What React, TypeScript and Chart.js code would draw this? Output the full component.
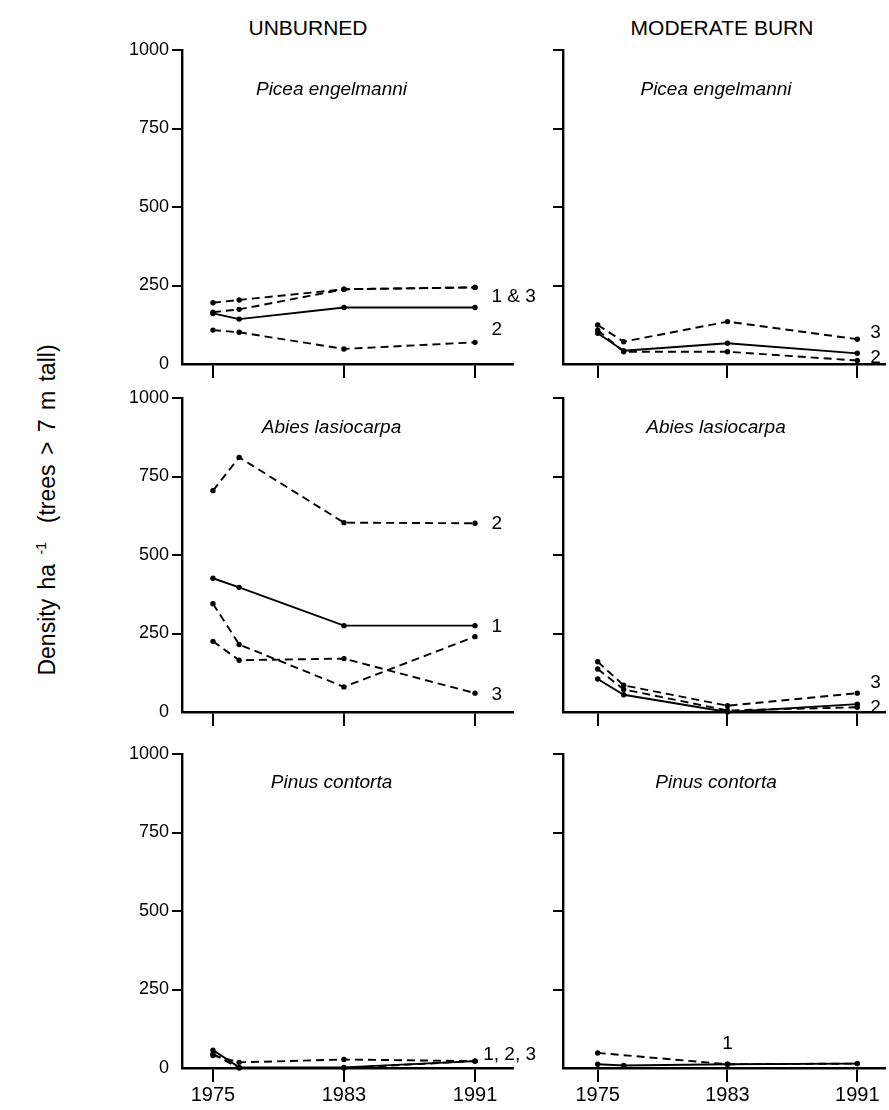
import React, { useEffect, useRef } from 'react';
import { Chart, registerables } from 'chart.js';

Chart.register(...registerables);

const FONT = "'Liberation Sans', Arial, Helvetica, sans-serif";

// ---- axis values ----
const xTickYears = [1975, 1983, 1991];
const yTickValues = [0, 250, 500, 750, 1000];
const surveyYears = [1975, 1976.6, 1983, 1991];
const surveyYearsNoSecond = [1975, 1983, 1991];

// ---- Picea engelmanni, unburned ----
const piceaUnb1 = [161, 143, 180, 180];
const piceaUnb3a = [195, 204, 238, 244];
const piceaUnb3b = [165, 174, 238, 244];
const piceaUnb2 = [108, 101, 48, 69];

// ---- Picea engelmanni, moderate burn ----
const piceaMod3 = [124, 71, 135, 79];
const piceaMod1 = [98, 42, 66, 34];
const piceaMod2 = [108, 39, 39, 11];

// ---- Abies lasiocarpa, unburned ----
const abiesUnb2 = [705, 811, 603, 601];
const abiesUnb1 = [426, 397, 275, 275];
const abiesUnbA = [345, 215, 80, 240];
const abiesUnb3 = [225, 165, 170, 60];

// ---- Abies lasiocarpa, moderate burn ----
const abiesMod3 = [160, 85, 20, 60];
const abiesMod2 = [137, 72, 5, 15];
const abiesMod1 = [105, 55, 0, 25];

// ---- Pinus contorta, unburned ----
const pinusUnb1 = [57, 2, 2, 22];
const pinusUnb2 = [40, 18, 27, 22];
const pinusUnb3 = [45, 0, 0, 22];

// ---- Pinus contorta, moderate burn ----
const pinusModDashed = [48, 12, 14];
const pinusMod1 = [12, 8, 12, 14];

type Series = { years: number[]; values: number[]; dashed: boolean };
type Note = { text: string; x: number; y: number; align: 'left' | 'center' };
type Panel = { col: number; row: number; title: string; series: Series[]; notes: Note[] };

const panels: Panel[] = [
  {
    col: 0, row: 0, title: 'Picea engelmanni',
    series: [
      { years: surveyYears, values: piceaUnb1, dashed: false },
      { years: surveyYears, values: piceaUnb3a, dashed: true },
      { years: surveyYears, values: piceaUnb3b, dashed: true },
      { years: surveyYears, values: piceaUnb2, dashed: true },
    ],
    notes: [
      { text: '1 & 3', x: 1992, y: 213, align: 'left' },
      { text: '2', x: 1992, y: 108, align: 'left' },
    ],
  },
  {
    col: 1, row: 0, title: 'Picea engelmanni',
    series: [
      { years: surveyYears, values: piceaMod3, dashed: true },
      { years: surveyYears, values: piceaMod1, dashed: false },
      { years: surveyYears, values: piceaMod2, dashed: true },
    ],
    notes: [
      { text: '3', x: 1991.8, y: 99, align: 'left' },
      { text: '2', x: 1991.8, y: 19, align: 'left' },
    ],
  },
  {
    col: 0, row: 1, title: 'Abies lasiocarpa',
    series: [
      { years: surveyYears, values: abiesUnb2, dashed: true },
      { years: surveyYears, values: abiesUnb1, dashed: false },
      { years: surveyYears, values: abiesUnbA, dashed: true },
      { years: surveyYears, values: abiesUnb3, dashed: true },
    ],
    notes: [
      { text: '2', x: 1992, y: 601, align: 'left' },
      { text: '1', x: 1992, y: 270, align: 'left' },
      { text: '3', x: 1992, y: 54, align: 'left' },
    ],
  },
  {
    col: 1, row: 1, title: 'Abies lasiocarpa',
    series: [
      { years: surveyYears, values: abiesMod3, dashed: true },
      { years: surveyYears, values: abiesMod2, dashed: true },
      { years: surveyYears, values: abiesMod1, dashed: false },
    ],
    notes: [
      { text: '3', x: 1991.8, y: 92, align: 'left' },
      { text: '2', x: 1991.8, y: 13, align: 'left' },
    ],
  },
  {
    col: 0, row: 2, title: 'Pinus contorta',
    series: [
      { years: surveyYears, values: pinusUnb1, dashed: false },
      { years: surveyYears, values: pinusUnb2, dashed: true },
      { years: surveyYears, values: pinusUnb3, dashed: true },
    ],
    notes: [{ text: '1, 2, 3', x: 1991.5, y: 41, align: 'left' }],
  },
  {
    col: 1, row: 2, title: 'Pinus contorta',
    series: [
      { years: surveyYearsNoSecond, values: pinusModDashed, dashed: true },
      { years: surveyYears, values: pinusMod1, dashed: false },
    ],
    notes: [{ text: '1', x: 1983, y: 77, align: 'center' }],
  },
];

// ---- layout ----
const rowTops = [50, 398, 754];
const plotH = 314;
const padTop = 14;
const colGeom = [
  { left: 95, width: 455, yW: 87, padR: 37, xMin: 1973.11, xMax: 1993.32, titleDx: -16 },
  { left: 530, width: 359, yW: 33, padR: 1, xMin: 1972.86, xMax: 1992.71, titleDx: -8 },
];
const titleOffsets = [40, 30, 29];

function PanelChart({ p }: { p: Panel }) {
  const ref = useRef<HTMLCanvasElement | null>(null);
  const g = colGeom[p.col];
  const xH = p.row === 2 ? 40 : 16;
  const h = padTop + plotH + xH;
  const top = rowTops[p.row] - padTop;

  useEffect(() => {
    if (!ref.current) return;
    const textPlugin = {
      id: 'panelText',
      afterDraw(chart: any) {
        const ctx = chart.ctx;
        const ca = chart.chartArea;
        const xs = chart.scales.x;
        const ys = chart.scales.y;
        ctx.save();
        ctx.fillStyle = '#000';
        ctx.font = `italic 19px ${FONT}`;
        ctx.textAlign = 'center';
        ctx.textBaseline = 'middle';
        const cx = (ca.left + ca.right) / 2 + g.titleDx;
        ctx.fillText(p.title, cx, ca.top + titleOffsets[p.row]);
        ctx.font = `19px ${FONT}`;
        p.notes.forEach((n) => {
          ctx.textAlign = n.align;
          ctx.fillText(n.text, xs.getPixelForValue(n.x), ys.getPixelForValue(n.y));
        });
        ctx.restore();
      },
    };
    const chart = new Chart(ref.current, {
      type: 'line',
      data: {
        datasets: p.series.map((s) => ({
          data: s.years.map((yr, i) => ({ x: yr, y: s.values[i] })),
          borderColor: '#000',
          backgroundColor: '#000',
          borderWidth: 1.9,
          borderDash: s.dashed ? [8, 5] : [],
          pointRadius: 2.7,
          pointBackgroundColor: '#000',
          pointBorderWidth: 0,
          tension: 0,
          fill: false,
          clip: false as any,
        })),
      },
      options: {
        animation: false,
        responsive: false,
        devicePixelRatio: 1,
        events: [],
        layout: { padding: { top: padTop, right: g.padR, left: 0, bottom: 0 } },
        plugins: { legend: { display: false }, tooltip: { enabled: false }, title: { display: false } },
        scales: {
          x: {
            type: 'linear',
            min: g.xMin,
            max: g.xMax,
            afterBuildTicks: (s: any) => {
              s.ticks = xTickYears.map((v) => ({ value: v }));
            },
            afterFit: (s: any) => {
              s.height = xH;
            },
            ticks: {
              display: p.row === 2,
              color: '#000',
              padding: 1,
              font: { family: FONT, size: 20 },
              callback: (v: any) => String(v),
            },
            grid: {
              display: true,
              drawOnChartArea: false,
              drawTicks: true,
              tickLength: 14,
              lineWidth: 2,
              color: '#000',
              tickColor: '#000',
            },
            border: { display: true, color: '#000', width: 2.4 },
          },
          y: {
            type: 'linear',
            min: 0,
            max: 1000,
            afterBuildTicks: (s: any) => {
              s.ticks = yTickValues.map((v) => ({ value: v }));
            },
            afterFit: (s: any) => {
              s.width = g.yW;
            },
            ticks: {
              display: p.col === 0,
              color: '#000',
              padding: 3,
              font: { family: FONT, size: 18 },
              callback: (v: any) => String(v),
            },
            grid: {
              display: true,
              drawOnChartArea: false,
              drawTicks: true,
              tickLength: 10,
              lineWidth: 2,
              color: (c: any) => (c.tick && c.tick.value === 0 ? 'rgba(0,0,0,0)' : '#000'),
              tickColor: (c: any) => (c.tick && c.tick.value === 0 ? 'rgba(0,0,0,0)' : '#000'),
            },
            border: { display: true, color: '#000', width: 2.4 },
          },
        },
      },
      plugins: [textPlugin],
    } as any);
    return () => chart.destroy();
  }, []);

  return (
    <canvas
      ref={ref}
      width={g.width}
      height={h}
      style={{ position: 'absolute', left: g.left, top, width: g.width, height: h }}
    />
  );
}

export default function App() {
  return (
    <div
      style={{
        position: 'absolute',
        left: 0,
        top: 0,
        width: 889,
        height: 1110,
        overflow: 'hidden',
        background: '#fff',
        fontFamily: FONT,
        color: '#000',
      }}
    >
      <div
        style={{
          position: 'absolute',
          left: 308,
          top: 28,
          transform: 'translate(-50%, -50%)',
          fontSize: 21,
          whiteSpace: 'nowrap',
        }}
      >
        UNBURNED
      </div>
      <div
        style={{
          position: 'absolute',
          left: 722,
          top: 28,
          transform: 'translate(-50%, -50%)',
          fontSize: 21,
          whiteSpace: 'nowrap',
        }}
      >
        MODERATE BURN
      </div>
      <div
        style={{
          position: 'absolute',
          left: 47,
          top: 510,
          transform: 'translate(-50%, -50%) rotate(-90deg)',
          fontSize: 23,
          wordSpacing: 3,
          whiteSpace: 'nowrap',
        }}
      >
        Density ha <sup style={{ fontSize: 14 }}>-1</sup>&nbsp; (trees &gt; 7 m tall)
      </div>
      {panels.map((p, i) => (
        <PanelChart key={i} p={p} />
      ))}
    </div>
  );
}
